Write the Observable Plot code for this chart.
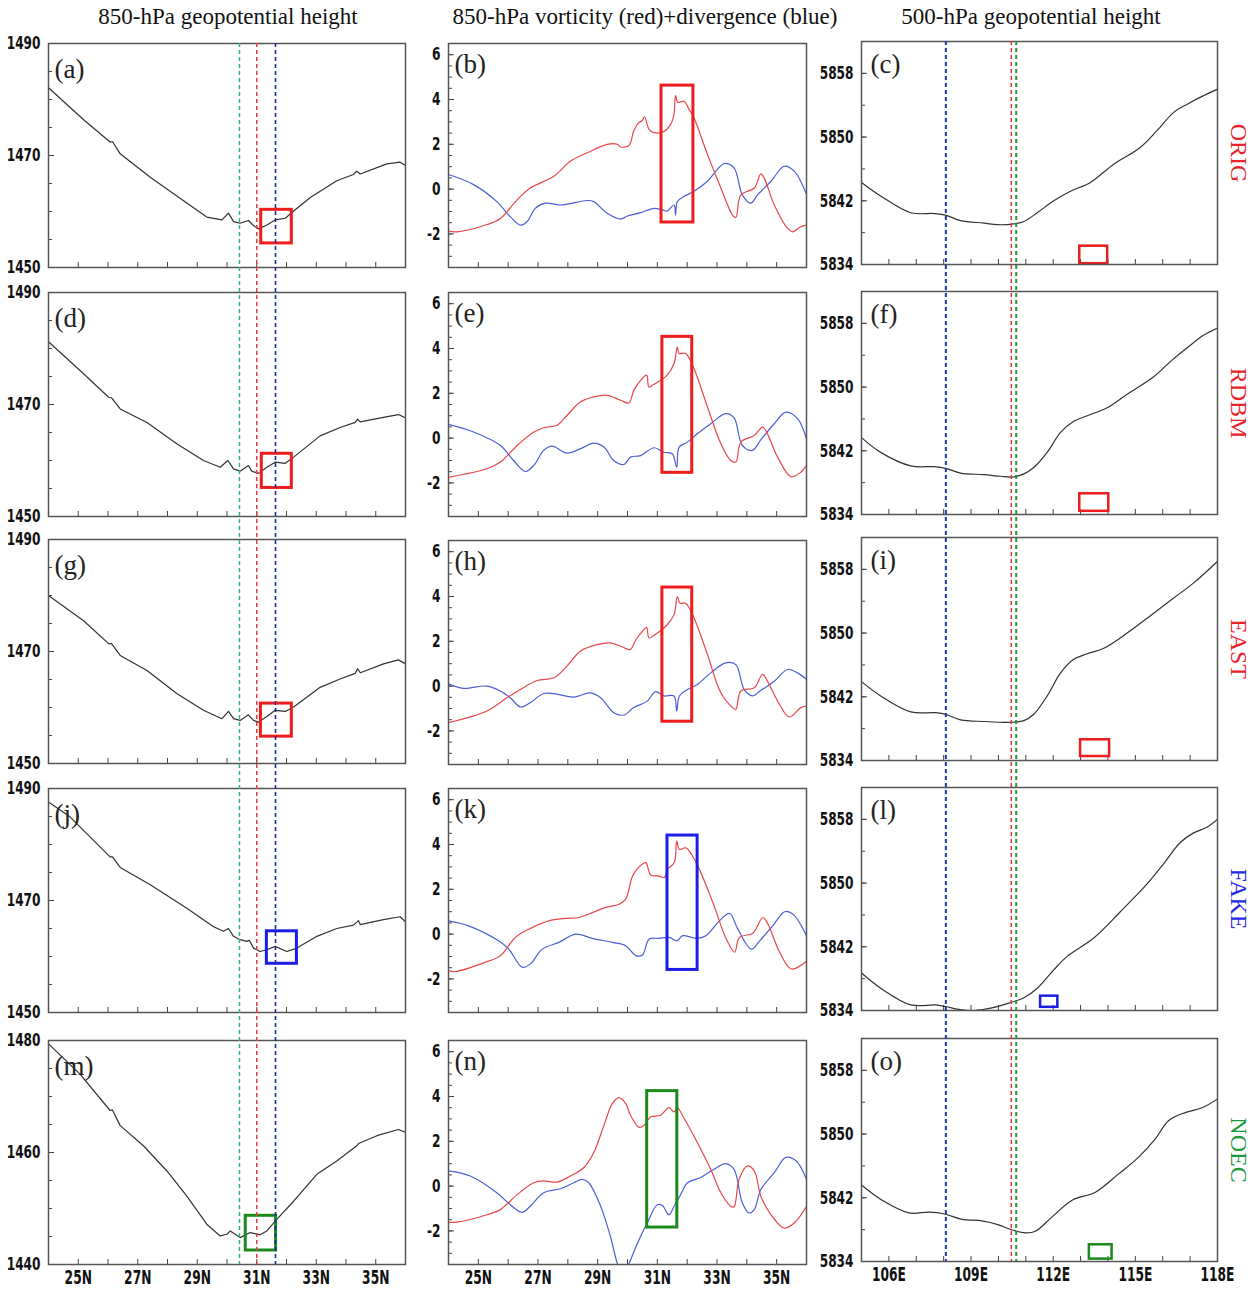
<!DOCTYPE html>
<html><head><meta charset="utf-8">
<script src="https://cdn.jsdelivr.net/npm/d3@7"></script>
<script src="https://cdn.jsdelivr.net/npm/@observablehq/plot@0.6"></script>
<style>
body{margin:0;background:#fff;}
#wrap{position:relative;width:1260px;height:1290px;overflow:hidden;background:#fff;}
.title{position:absolute;top:4px;font-family:"Liberation Serif","Times New Roman",serif;font-size:23px;color:#111;white-space:nowrap;transform:translateX(-50%);}
</style></head><body><div id="wrap"></div>
<script>
// ---------------- DATA ----------------
const experiments = ["ORIG", "RDBM", "EAST", "FAKE", "NOEC"];
const expColors = ["#e8242a", "#e8242a", "#e8242a", "#2727e6", "#1a9a3a"];
const boxColors = ["#ee1c1c", "#ee1c1c", "#ee1c1c", "#1c1ce6", "#1a8a1a"];
const panelLetters = [["(a)","(b)","(c)"],["(d)","(e)","(f)"],["(g)","(h)","(i)"],["(j)","(k)","(l)"],["(m)","(n)","(o)"]];
const columnTitles = ["850-hPa geopotential height", "850-hPa vorticity (red)+divergence (blue)", "500-hPa geopotential height"];

// 850-hPa geopotential height along latitude [lat, gpm]
const z850_ORIG = [[24.0,1482.1],[25.2,1476.3],[26.07,1472.4],[26.15,1472.5],[26.41,1470.3],[27.42,1466.1],[28.54,1461.9],[29.32,1459.0],[29.83,1458.5],[30.05,1459.7],[30.22,1458.2],[30.44,1457.9],[30.72,1458.4],[30.89,1457.5],[31.06,1456.9],[31.34,1457.6],[31.62,1458.5],[31.96,1458.8],[32.24,1460.1],[32.80,1462.5],[33.69,1465.5],[34.25,1466.6],[34.36,1467.2],[34.48,1466.7],[35.37,1468.5],[35.82,1468.8],[36.0,1468.2]];
const z850_RDBM = [[24.0,1481.2],[25.18,1475.5],[26.02,1471.3],[26.12,1471.2],[26.41,1469.2],[27.31,1466.8],[28.31,1463.0],[29.21,1460.0],[29.77,1458.8],[30.03,1460.0],[30.22,1458.5],[30.44,1458.1],[30.72,1459.1],[30.83,1458.1],[31.06,1457.7],[31.34,1458.8],[31.62,1459.7],[31.96,1459.5],[32.24,1460.6],[33.13,1464.4],[33.80,1465.9],[34.31,1466.8],[34.39,1467.4],[34.48,1466.9],[35.26,1467.7],[35.76,1468.2],[36.0,1467.6]];
const z850_EAST = [[24.0,1480.0],[25.18,1475.5],[26.02,1471.4],[26.12,1471.4],[26.41,1469.3],[27.31,1466.6],[28.31,1462.5],[29.21,1459.5],[29.83,1458.0],[30.05,1459.3],[30.22,1458.0],[30.44,1457.7],[30.72,1458.7],[30.89,1457.7],[31.06,1457.4],[31.34,1458.4],[31.62,1459.5],[31.96,1459.3],[32.24,1460.1],[33.13,1463.6],[33.80,1465.1],[34.31,1466.1],[34.39,1466.9],[34.48,1466.2],[35.26,1467.8],[35.76,1468.5],[36.0,1467.8]];
const z850_FAKE = [[24.0,1487.6],[24.73,1484.9],[26.07,1477.8],[26.15,1477.8],[26.41,1475.9],[27.42,1472.8],[28.65,1468.6],[29.55,1465.3],[29.88,1464.5],[30.05,1465.0],[30.22,1463.6],[30.44,1463.0],[30.67,1462.7],[30.75,1462.9],[30.89,1461.5],[31.11,1460.9],[31.34,1461.2],[31.62,1461.8],[32.01,1460.9],[32.35,1461.5],[33.02,1463.6],[33.69,1465.0],[34.25,1465.6],[34.42,1466.4],[34.48,1465.7],[35.26,1466.6],[35.82,1467.1],[36.0,1466.2]];
const z850_NOEC = [[24.0,1479.4],[25.06,1474.0],[26.07,1467.5],[26.15,1467.6],[26.41,1464.8],[27.19,1461.2],[27.98,1456.7],[28.65,1452.2],[29.32,1447.2],[29.77,1445.1],[30.0,1445.4],[30.11,1446.0],[30.44,1444.8],[30.78,1445.7],[31.11,1445.3],[31.34,1446.0],[31.68,1448.1],[32.24,1451.3],[33.02,1456.1],[33.69,1458.5],[34.36,1461.2],[34.42,1461.6],[35.04,1463.0],[35.76,1464.1],[36.0,1463.6]];
const z850Series = [z850_ORIG, z850_RDBM, z850_EAST, z850_FAKE, z850_NOEC];
const z850Domains = [[1450,1490],[1450,1490],[1450,1490],[1450,1490],[1440,1480]];
// boxes [lat1, lat2, z1, z2]
const z850Boxes = [[31.15,32.18,1454.3,1460.3],[31.17,32.18,1455.1,1461.2],[31.14,32.18,1454.8,1460.7],[31.34,32.35,1458.7,1464.5],[30.63,31.65,1442.5,1448.7]];

// 850-hPa vorticity (red) and divergence (blue) [lat, value]
const vor_ORIG = [[24.0,-1.88],[24.28,-1.91],[25.29,-1.58],[25.74,-1.31],[26.30,-0.48],[26.74,0.05],[27.53,0.57],[28.09,1.25],[28.65,1.62],[29.32,2.0],[29.66,2.0],[29.77,1.88],[30.05,1.95],[30.21,2.6],[30.38,2.97],[30.49,3.05],[30.57,3.23],[30.72,2.67],[30.89,2.52],[31.22,2.57],[31.45,2.9],[31.56,3.35],[31.61,4.17],[31.69,3.87],[31.89,3.92],[32.06,3.57],[32.23,3.17],[32.68,1.55],[33.13,0.05],[33.52,-1.16],[33.63,-1.26],[33.80,-0.26],[34.25,0.05],[34.47,0.68],[34.58,0.5],[34.92,-0.71],[35.37,-1.76],[35.53,-1.91],[35.81,-1.68],[36.0,-1.6]];
const div_ORIG = [[24.0,0.65],[24.84,0.2],[25.62,-0.56],[26.07,-1.23],[26.41,-1.61],[26.63,-1.46],[26.91,-0.86],[27.25,-0.63],[27.75,-0.71],[28.65,-0.51],[28.87,-0.56],[29.32,-1.08],[29.77,-1.34],[30.0,-1.2],[30.44,-1.05],[30.89,-0.86],[31.17,-0.93],[31.33,-0.98],[31.56,-0.71],[31.61,-1.16],[31.67,-0.56],[31.89,-0.33],[32.23,-0.1],[32.68,0.35],[33.24,1.14],[33.57,0.95],[33.85,-0.26],[34.13,-0.63],[34.36,-0.26],[34.81,0.35],[35.25,1.02],[35.59,0.8],[36.0,-0.23]];
const vor_RDBM = [[24.0,-1.75],[25.29,-1.37],[25.74,-1.07],[26.30,-0.33],[26.86,0.27],[27.19,0.46],[27.64,0.57],[27.97,1.01],[28.42,1.61],[28.87,1.84],[29.32,1.91],[29.77,1.69],[30.05,1.57],[30.21,2.13],[30.44,2.58],[30.64,2.81],[30.72,2.28],[30.89,2.4],[31.33,2.81],[31.56,3.33],[31.67,4.07],[31.73,3.78],[31.95,3.78],[32.23,3.1],[32.68,1.39],[33.13,-0.25],[33.46,-1.0],[33.63,-1.07],[33.80,-0.18],[34.25,0.12],[34.53,0.49],[34.69,0.19],[35.03,-0.85],[35.48,-1.72],[35.81,-1.52],[36.0,-1.22]];
const div_RDBM = [[24.0,0.61],[24.84,0.27],[25.74,-0.33],[26.18,-1.0],[26.58,-1.49],[26.86,-1.22],[27.19,-0.55],[27.47,-0.36],[27.97,-0.67],[28.42,-0.48],[28.87,-0.22],[29.21,-0.4],[29.54,-1.0],[29.88,-1.18],[30.10,-0.85],[30.44,-0.78],[30.89,-0.43],[31.22,-0.63],[31.50,-0.7],[31.65,-1.3],[31.73,-0.4],[32.01,-0.18],[32.34,0.19],[32.79,0.64],[33.29,1.09],[33.57,0.91],[33.85,-0.33],[34.19,-0.55],[34.47,-0.07],[34.92,0.64],[35.31,1.16],[35.70,0.87],[36.0,-0.03]];
const vor_EAST = [[24.0,-1.63],[25.29,-1.11],[25.96,-0.52],[26.41,-0.15],[26.97,0.25],[27.53,0.37],[27.97,0.89],[28.42,1.56],[28.98,1.85],[29.43,1.93],[29.77,1.78],[30.09,1.63],[30.28,2.07],[30.50,2.44],[30.64,2.62],[30.72,2.15],[30.89,2.27],[31.33,2.74],[31.56,3.19],[31.67,4.0],[31.76,3.7],[31.95,3.7],[32.23,3.04],[32.68,1.41],[33.13,-0.3],[33.52,-0.96],[33.63,-1.04],[33.80,-0.22],[34.25,-0.07],[34.53,0.52],[34.69,0.22],[35.09,-0.81],[35.42,-1.38],[35.81,-0.96],[36.0,-0.89]];
const div_EAST = [[24.0,0.1],[24.50,-0.1],[25.29,0.0],[25.74,-0.22],[26.07,-0.52],[26.41,-0.93],[26.74,-0.74],[27.19,-0.33],[27.53,-0.34],[28.20,-0.49],[28.76,-0.3],[29.10,-0.52],[29.54,-1.19],[29.88,-1.29],[30.21,-0.96],[30.66,-0.67],[30.94,-0.25],[31.22,-0.44],[31.56,-0.44],[31.65,-1.11],[31.74,-0.44],[32.01,-0.15],[32.34,0.07],[32.79,0.59],[33.29,1.04],[33.63,0.96],[33.91,-0.15],[34.19,-0.44],[34.47,-0.19],[34.92,0.22],[35.37,0.74],[35.70,0.59],[36.0,0.3]];
const vor_FAKE = [[24.0,-1.63],[24.22,-1.67],[25.23,-1.26],[25.74,-0.96],[26.24,-0.15],[26.69,0.22],[27.36,0.59],[27.92,0.7],[28.37,0.74],[28.82,0.96],[29.27,1.19],[29.72,1.33],[29.94,1.56],[30.17,2.59],[30.39,3.0],[30.61,3.19],[30.78,2.64],[31.06,2.59],[31.23,2.52],[31.34,2.89],[31.57,3.21],[31.65,4.15],[31.74,3.78],[31.96,3.85],[32.30,3.19],[32.86,1.41],[33.31,-0.22],[33.59,-0.81],[33.75,-0.15],[34.20,0.04],[34.54,0.74],[34.71,0.44],[35.10,-0.81],[35.49,-1.56],[35.88,-1.33],[36.0,-1.19]];
const div_FAKE = [[24.0,0.59],[24.67,0.37],[25.68,-0.3],[26.02,-0.67],[26.47,-1.48],[26.75,-1.33],[27.14,-0.67],[27.70,-0.37],[28.26,0.0],[28.82,-0.19],[29.49,-0.37],[29.94,-0.52],[30.28,-0.96],[30.50,-0.93],[30.73,-0.22],[31.06,-0.19],[31.40,-0.15],[31.66,-0.3],[31.85,-0.07],[32.30,-0.19],[32.63,-0.07],[33.08,0.59],[33.42,0.92],[33.70,0.22],[34.15,-0.67],[34.43,-0.3],[34.87,0.37],[35.27,1.0],[35.55,0.89],[36.0,-0.07]];
const vor_NOEC = [[24.0,-1.61],[24.28,-1.61],[25.29,-1.28],[25.74,-1.05],[26.30,-0.38],[26.86,0.15],[27.19,0.23],[27.64,0.18],[28.09,0.45],[28.54,0.83],[28.87,1.5],[29.21,2.71],[29.49,3.68],[29.71,3.95],[29.94,3.68],[30.10,3.16],[30.38,2.63],[30.55,2.71],[30.77,3.08],[31.11,3.16],[31.39,3.5],[31.56,3.31],[31.67,3.5],[31.89,3.04],[32.34,1.95],[32.79,0.75],[33.13,-0.3],[33.46,-0.9],[33.57,-0.93],[33.74,0.3],[34.02,0.9],[34.25,0.68],[34.47,-0.45],[34.81,-1.28],[35.25,-1.88],[35.59,-1.65],[36.0,-0.9]];
const div_NOEC = [[24.0,0.68],[24.73,0.45],[25.62,-0.3],[26.07,-0.83],[26.46,-1.17],[26.74,-0.9],[27.19,-0.3],[27.75,-0.12],[28.20,0.15],[28.48,0.3],[28.70,0.15],[29.10,-0.9],[29.43,-2.26],[29.66,-3.46],[29.77,-3.76],[29.93,-3.76],[30.05,-3.46],[30.33,-2.56],[30.66,-1.65],[31.0,-0.83],[31.17,-0.87],[31.39,-1.28],[31.56,-0.9],[31.78,-0.38],[32.01,0.15],[32.45,0.38],[32.90,0.75],[33.29,1.0],[33.57,0.75],[33.85,-0.75],[34.08,-1.2],[34.25,-1.05],[34.47,-0.15],[34.92,0.6],[35.31,1.28],[35.65,1.13],[36.0,0.3]];
const vorSeries = [vor_ORIG, vor_RDBM, vor_EAST, vor_FAKE, vor_NOEC];
const divSeries = [div_ORIG, div_RDBM, div_EAST, div_FAKE, div_NOEC];
const vdBoxes = [[31.14,32.21,-1.49,4.62],[31.17,32.17,-1.55,4.52],[31.17,32.17,-1.59,4.4],[31.34,32.35,-1.6,4.4],[30.66,31.67,-1.85,4.24]];

// 500-hPa geopotential height along longitude [lon, gpm]
const z500_ORIG = [[105.0,5844.3],[105.70,5842.6],[106.80,5840.5],[107.65,5840.4],[108.07,5840.2],[108.62,5839.5],[109.47,5839.2],[109.96,5839.0],[110.56,5839.1],[110.93,5839.4],[111.42,5840.5],[112.02,5842.0],[112.63,5843.2],[113.36,5844.3],[114.21,5846.6],[115.18,5848.7],[115.79,5850.8],[116.40,5853.1],[116.88,5854.1],[117.49,5855.2],[118.0,5856.0]];
const z500_RDBM = [[105.0,5843.65],[105.70,5841.8],[106.80,5840.1],[107.65,5840.0],[108.07,5839.8],[108.62,5839.2],[109.47,5839.0],[110.08,5838.8],[110.50,5838.7],[110.93,5839.1],[111.29,5839.9],[111.78,5841.8],[112.27,5844.3],[112.75,5845.7],[113.24,5846.4],[113.97,5847.4],[114.70,5849.1],[115.67,5851.3],[116.28,5853.2],[116.88,5854.9],[117.49,5856.5],[118.0,5857.4]];
const z500_EAST = [[105.0,5843.9],[105.70,5842.1],[106.80,5840.1],[107.71,5840.0],[108.07,5839.8],[108.62,5839.1],[109.47,5838.9],[110.08,5838.8],[110.50,5838.8],[110.93,5839.0],[111.29,5839.8],[111.78,5842.1],[112.27,5845.0],[112.75,5846.7],[113.24,5847.4],[113.85,5848.1],[114.70,5850.0],[115.67,5852.5],[116.40,5854.4],[117.13,5856.3],[118.0,5859.0]];
const z500_FAKE = [[105.0,5838.7],[105.70,5836.8],[106.80,5834.7],[107.71,5834.7],[108.07,5834.5],[108.62,5834.1],[109.11,5834.0],[109.84,5834.4],[110.44,5835.0],[110.93,5835.6],[111.42,5836.8],[112.02,5839.1],[112.51,5840.8],[113.48,5843.1],[114.45,5846.4],[115.43,5849.9],[116.03,5852.4],[116.64,5855.1],[117.13,5856.3],[117.61,5857.0],[118.0,5858.0]];
const z500_NOEC = [[105.0,5843.6],[105.75,5841.7],[106.73,5840.1],[107.46,5840.2],[108.0,5840.0],[108.67,5839.3],[109.40,5839.1],[110.01,5838.6],[110.50,5837.95],[110.99,5837.6],[111.35,5837.8],[111.96,5839.6],[112.69,5841.7],[113.54,5842.7],[114.39,5845.0],[115.12,5847.1],[115.73,5849.4],[116.22,5851.7],[116.82,5852.7],[117.43,5853.3],[118.0,5854.4]];
const z500Series = [z500_ORIG, z500_RDBM, z500_EAST, z500_FAKE, z500_NOEC];
const z500Boxes = [[112.97,113.99,5834.1,5836.3],[112.97,114.03,5834.4,5836.6],[113.0,114.06,5834.5,5836.6],[111.54,112.17,5834.4,5835.8],[113.32,114.15,5834.3,5836.1]];

// reference lines
const latRefLines = [30.42, 31.0, 31.63];
const latRefColors = ["#2db38a", "#e8383d", "#1e2a9c"];
const lonRefLines = [108.08, 110.47, 110.65];
const lonRefColors = ["#2233aa", "#ee3030", "#1f9a3f"];

// ticks
const latTicks = [24,25,26,27,28,29,30,31,32,33,34,35,36];
const latLabels = [25,27,29,31,33,35];
const lonTicks = [105,106,107,108,109,110,111,112,113,114,115,116,117,118];
const lonLabels = [106,109,112,115,118];
const z850Major = [[1450,1470,1490],[1450,1470,1490],[1450,1470,1490],[1450,1470,1490],[1440,1460,1480]];
const z850Minor = [[1450,1455,1460,1465,1470,1475,1480,1485,1490],[1450,1455,1460,1465,1470,1475,1480,1485,1490],[1450,1455,1460,1465,1470,1475,1480,1485,1490],[1450,1455,1460,1465,1470,1475,1480,1485,1490],[1440,1445,1450,1455,1460,1465,1470,1475,1480]];
const vdMajor = [-2,0,2,4,6];
const vdMinor = [-3.5,-3,-2.5,-2,-1.5,-1,-0.5,0,0.5,1,1.5,2,2.5,3,3.5,4,4.5,5,5.5,6,6.5];
const z500Major = [5834,5842,5850,5858];
const z500Minor = [5834,5838,5842,5846,5850,5854,5858,5862];

// ---------------- LAYOUT ----------------
const wrap = document.getElementById("wrap");
const SERIF = "'Liberation Serif','Times New Roman',serif";
const TICKFONT = "'DejaVu Sans Condensed','DejaVu Sans',sans-serif";
const colFrames = [
  {x: 48, w: 357, tops: [43,292,539,788,1040], h: 224, mL: 48, mR: 10, letterDx: 6, letterDy: 15},
  {x: 448, w: 358, tops: [43,292,540,788,1040], h: 224, mL: 40, mR: 10, letterDx: 6, letterDy: 10},
  {x: 861, w: 356, tops: [41,291,537,787,1038], h: 223, mL: 62, mR: 43, letterDx: 9, letterDy: 12}
];

function condense(svg, selector, factor) {
  svg.querySelectorAll(selector).forEach(t => {
    const L = t.getComputedTextLength();
    if (L > 0) {
      t.setAttribute("textLength", (L * factor).toFixed(1));
      t.setAttribute("lengthAdjust", "spacingAndGlyphs");
    }
  });
}

function panel(col, opt) {
  const f = colFrames[col];
  const top = f.tops[opt.row];
  const mT = 12, mB = 34;
  const marks = [];
  marks.push(Plot.axisY({ticks: opt.yMinor, tickSize: -4, tickFormat: () => "", label: null, stroke: "#444"}));
  marks.push(Plot.axisY({ticks: opt.yMajor, tickSize: -6, tickPadding: 14, tickFormat: d => String(d), label: null, stroke: "#444",
    fontFamily: TICKFONT, fontWeight: "bold", fontSize: 18, fill: "#111", ariaLabel: "y-major"}));
  marks.push(Plot.axisX({ticks: opt.xTicks, tickSize: -5, tickFormat: () => "", label: null, stroke: "#444"}));
  if (opt.showX) {
    marks.push(Plot.axisX({ticks: opt.xLabels, tickSize: 0, tickPadding: 5, tickFormat: opt.xFmt, label: null,
      fontFamily: TICKFONT, fontWeight: "bold", fontSize: 20, fill: "#111", ariaLabel: "x-major"}));
  }
  for (const s of opt.series) {
    marks.push(Plot.line(s.data, {x: d => d[0], y: d => d[1], stroke: s.color, strokeWidth: 1.2, clip: true, curve: s.curve || "linear"}));
  }
  marks.push(Plot.rect([opt.box], {x1: d => d[0], x2: d => d[1], y1: d => d[2], y2: d => d[3],
    stroke: opt.boxColor, strokeWidth: opt.boxWidth || 3, fill: "none"}));
  marks.push(Plot.text([opt.letter], {text: d => d, frameAnchor: "top-left", dx: f.letterDx, dy: f.letterDy,
    fontSize: 27, fontFamily: SERIF, fontWeight: "normal", fill: "#222"}));
  if (opt.rowLabel) {
    marks.push(Plot.text([opt.rowLabel], {text: d => d, frameAnchor: "right", dx: 21, rotate: 90,
      textAnchor: "middle", lineAnchor: "middle", fill: opt.rowColor, fontSize: 24, fontFamily: SERIF, fontWeight: "normal"}));
  }
  marks.push(Plot.frame({stroke: "#555", strokeWidth: 1.5}));
  const svg = Plot.plot({
    width: f.mL + f.w + f.mR, height: mT + f.h + mB,
    marginLeft: f.mL, marginRight: f.mR, marginTop: mT, marginBottom: mB,
    x: {domain: opt.xDom}, y: {domain: opt.yDom},
    style: {background: "transparent", overflow: "visible", fontFamily: TICKFONT},
    marks
  });
  svg.style.position = "absolute";
  svg.style.left = (f.x - f.mL) + "px";
  svg.style.top = (top - mT) + "px";
  wrap.appendChild(svg);
  condense(svg, 'g[aria-label^="y-major"] text', 0.75);
  condense(svg, 'g[aria-label^="x-major"] text', 0.68);
}

function overlay(col, dom, positions, colors, widths) {
  const f = colFrames[col];
  const y0 = f.tops[0], y1 = f.tops[4] + f.h;
  const marks = positions.map((p, i) => Plot.ruleX([p], {stroke: colors[i], strokeWidth: widths[i], strokeDasharray: "4,3"}));
  const svg = Plot.plot({
    width: f.w, height: y1 - y0, marginLeft: 0, marginRight: 0, marginTop: 0, marginBottom: 0,
    x: {domain: dom, axis: null},
    style: {background: "transparent", overflow: "visible"},
    marks
  });
  svg.style.position = "absolute";
  svg.style.left = f.x + "px";
  svg.style.top = y0 + "px";
  svg.style.pointerEvents = "none";
  wrap.appendChild(svg);
}

const latFmt = d => d + "N";
const lonFmt = d => d + "E";
for (let r = 0; r < 5; r++) {
  panel(0, {row: r, xDom: [24,36], yDom: z850Domains[r], xTicks: latTicks, xLabels: latLabels, xFmt: latFmt,
    yMajor: z850Major[r], yMinor: z850Minor[r], showX: r === 4,
    series: [{data: z850Series[r], color: "#333"}], box: z850Boxes[r], boxColor: boxColors[r], letter: panelLetters[r][0]});
  panel(1, {row: r, xDom: [24,36], yDom: [-3.5,6.5], xTicks: latTicks, xLabels: latLabels, xFmt: latFmt,
    yMajor: vdMajor, yMinor: vdMinor, showX: r === 4,
    series: [{data: divSeries[r], color: "#4c5fd6", curve: "catmull-rom"}, {data: vorSeries[r], color: "#e8474a", curve: "catmull-rom"}],
    box: vdBoxes[r], boxColor: boxColors[r], letter: panelLetters[r][1]});
  panel(2, {row: r, xDom: [105,118], yDom: [5834,5862], xTicks: lonTicks, xLabels: lonLabels, xFmt: lonFmt,
    yMajor: z500Major, yMinor: z500Minor, showX: r === 4,
    series: [{data: z500Series[r], color: "#333", curve: "catmull-rom"}], box: z500Boxes[r], boxColor: boxColors[r], boxWidth: 2.5,
    letter: panelLetters[r][2], rowLabel: experiments[r], rowColor: expColors[r]});
}
overlay(0, [24,36], latRefLines, latRefColors, [1.5,1.5,1.6]);
overlay(2, [105,118], lonRefLines, lonRefColors, [2,1.5,2]);

const titleCenters = [228, 645, 1031];
columnTitles.forEach((t, i) => {
  const d = document.createElement("div");
  d.className = "title";
  d.style.left = titleCenters[i] + "px";
  d.textContent = t;
  wrap.appendChild(d);
});
</script></body></html>
